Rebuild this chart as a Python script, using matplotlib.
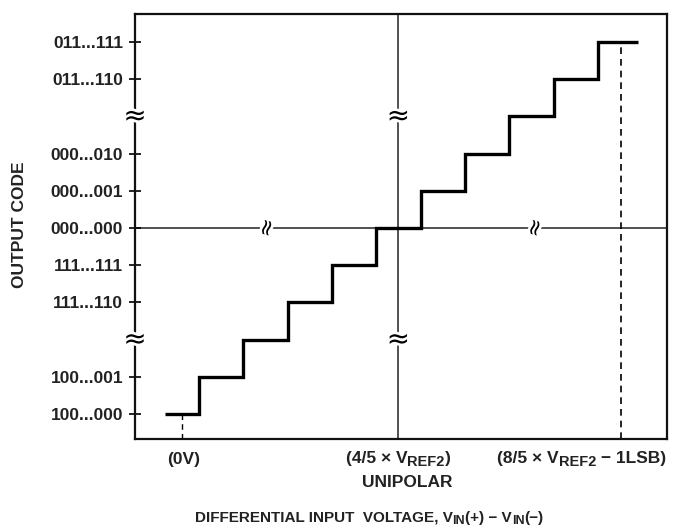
import numpy as np
import matplotlib.pyplot as plt
import matplotlib.patheffects as pe

plt.rcParams['font.family'] = ['Liberation Sans', 'DejaVu Sans']
plt.rcParams['font.weight'] = 'bold'

# output codes on the y axis (2 and 8 are the axis breaks)
code_labels = ['100...000', '100...001', '111...110', '111...111', '000...000',
               '000...001', '000...010', '011...110', '011...111']
code_pos = [0, 1, 3, 4, 5, 6, 7, 9, 10]
break_pos = [2, 8]

# staircase transfer function
step_edges = [-0.27, 0.5, 1.5, 2.5, 3.5, 4.5, 5.5, 6.5, 7.5, 8.5, 9.5, 10.4]
step_levels = [0, 1, 2, 3, 4, 5, 6, 7, 8, 9, 10]

zero_x = 0.12      # (0V)
mid_x = 5          # 4/5 x VREF2
full_x = 10.03     # 8/5 x VREF2 - 1LSB
mid_y = 5          # 000...000
hbreak_x = [2.05, 8.1]

W, H = 674, 531
TXT = '#222222'
BIG, SUB = 12.5, 10.5

fig = plt.figure(figsize=(W / 100, H / 100), dpi=100)
ax = fig.add_axes([135 / W, 1 - 439 / H, 532 / W, 425 / H])
ax.set_xlim(-0.94, 11.06)
ax.set_ylim(-0.67, 10.75)

for s in ax.spines.values():
    s.set_linewidth(1.6)
    s.set_color('#111111')

ax.axvline(mid_x, color='#333333', lw=1.2, zorder=1)
ax.axhline(mid_y, color='#333333', lw=1.2, zorder=1)

ax.stairs(step_levels, step_edges, baseline=None, color='black', lw=2.4, zorder=3)

ax.plot([zero_x, zero_x], [-0.67, 0], color='black', lw=1.0, ls=(0, (4, 3)), zorder=2)
ax.plot([full_x, full_x], [-0.67, 10], color='black', lw=1.2, ls=(0, (4, 3)), zorder=2)

ax.set_yticks(code_pos)
ax.set_yticklabels(code_labels, fontsize=BIG, fontweight='bold', color=TXT)
ax.tick_params(axis='y', direction='inout', length=9, width=1.2, pad=4)
ax.set_xticks([])

renderer = fig.canvas.get_renderer()


def rich_text(x, y, pieces, ha='center'):
    # pieces: (string, fontsize, baseline shift in px); x, y in pixels from top-left
    arts = []
    for s, fs, dy in pieces:
        t = fig.text(0, 0, s, fontsize=fs, fontweight='bold', color=TXT,
                     va='baseline', ha='left', transform=None)
        arts.append((t, dy))
    widths = [t.get_window_extent(renderer).width for t, _ in arts]
    total = sum(widths)
    x0 = x - total / 2 if ha == 'center' else (x - total if ha == 'right' else x)
    for (t, dy), w in zip(arts, widths):
        t.set_position((x0, H - y - dy))
        x0 += w


rich_text(184, 464, [('(0V)', BIG, 0)])
rich_text(398, 463, [('(4/5 × V', BIG, 0), ('REF2', SUB, 3), (')', BIG, 0)])
rich_text(666, 463, [('(8/5 × V', BIG, 0), ('REF2', SUB, 3), (' − 1LSB)', BIG, 0)],
          ha='right')
rich_text(407, 487, [('UNIPOLAR', BIG, 0)])
rich_text(369, 522, [('DIFFERENTIAL INPUT  VOLTAGE, V', 11, 0), ('IN', 9, 2),
                     ('(+) − V', 11, 0), ('IN', 9, 2), ('(−)', 11, 0)])

fig.text(20 / W, 1 - 225 / H, 'OUTPUT CODE', rotation=90, ha='center', va='center',
         fontsize=BIG, fontweight='bold', color=TXT)

stroke = [pe.withStroke(linewidth=4, foreground='white')]
for b in break_pos:
    ax.text(-0.94, b, '≈', ha='center', va='center', fontsize=20,
            fontweight='normal', path_effects=stroke, zorder=5, clip_on=False,
            family='DejaVu Sans')
    ax.text(mid_x, b, '≈', ha='center', va='center', fontsize=20,
            fontweight='normal', path_effects=stroke, zorder=5, family='DejaVu Sans')
for hx in hbreak_x:
    ax.text(hx, mid_y, '≈', ha='center', va='center', fontsize=16, rotation=75,
            fontweight='normal', path_effects=stroke, zorder=5, family='DejaVu Sans')

fig.savefig('out.png', dpi=100)
